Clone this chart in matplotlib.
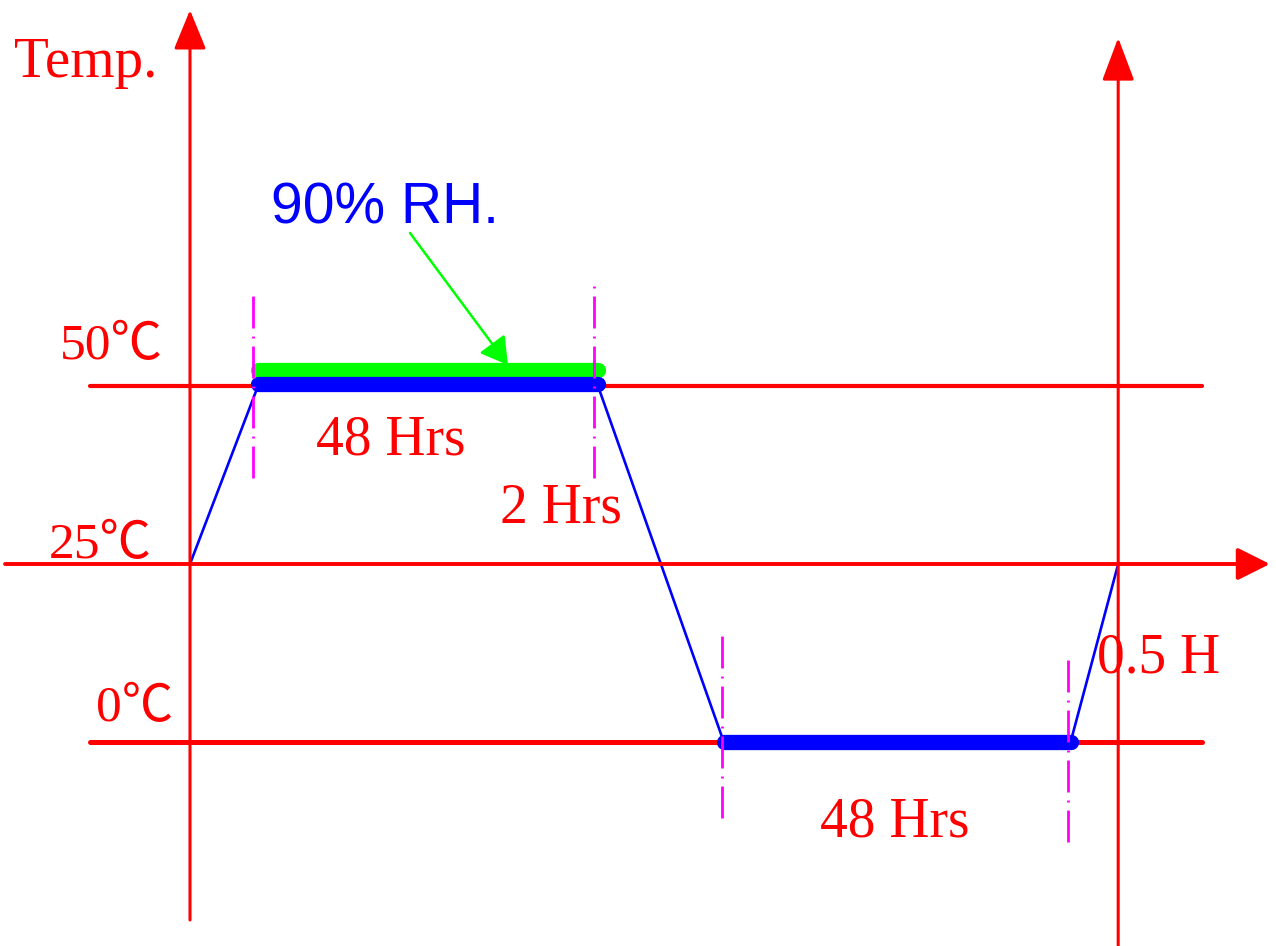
import matplotlib
matplotlib.use("Agg")
import matplotlib.pyplot as plt
from matplotlib.transforms import offset_copy

# ---- data: schematic temperature / humidity cycle ---------------------
# time is in schematic drawing units (1 unit = one 48 h dwell as drawn)
profile_t = [0.0, 0.2, 1.2, 1.57, 2.59, 2.73]
profile_temp = [25, 50, 50, 0, 0, 25]
level_temps = [50, 25, 0]
level_labels = ["50℃", "25℃", "0℃"]
hot_dwell = (0.2, 1.2)     # 50 C, 90% RH
cold_dwell = (1.57, 2.59)  # 0 C
phase_marks_t = [0.185, 1.188, 1.565, 2.582]
phase_marks_top = [63.8, 64.2, 15.7, 12.2]
phase_marks_bot = [37.1, 37.1, -10.7, -14.0]
duration_labels = ["48 Hrs", "2 Hrs", "0.5 H", "48 Hrs"]

RED, BLUE, GREEN, MAG = "#ff0000", "#0000ff", "#00ff00", "#ff00ff"
SERIF = ["Liberation Serif", "Noto Sans CJK SC", "DejaVu Serif"]

fig = plt.figure(figsize=(12.76, 9.46), dpi=100)
ax = fig.add_axes([0, 0, 1, 1])
ax.set_xlim(-190 / 340, (1276 - 190) / 340)
ax.set_ylim(-(946 - 742) / 7.12, 742 / 7.12)
ax.axis("off")


def arrow(tail, tip, hl, hw, lw):
    ax.annotate("", xy=tip, xytext=tail,
                arrowprops=dict(arrowstyle=f"-|>,head_length={hl},head_width={hw}",
                                mutation_scale=20, lw=lw, color=RED,
                                shrinkA=0, shrinkB=0))


# axes (temperature axes and the 25 C time axis)
arrow((0, -25.0), (0, 102.8), 1.22, 0.5, 2.2)
arrow((2.73, -30), (2.73, 98.9), 1.33, 0.5, 2.2)
arrow((-0.544, 25), (3.176, 25), 1.0, 0.5, 2.8)
for temp, lw in ((50, 3.0), (0, 3.6)):
    ax.plot([-0.294, 2.976], [temp, temp], color=RED, lw=lw,
            solid_capstyle="round")

# temperature profile
ax.plot(profile_t, profile_temp, color=BLUE, lw=1.9)
rh_tr = offset_copy(ax.transData, fig=fig, x=0, y=16, units="dots")
ax.plot(hot_dwell, [50, 50], color=GREEN, lw=11, solid_capstyle="round",
        transform=rh_tr)
hot_tr = offset_copy(ax.transData, fig=fig, x=0, y=2, units="dots")
ax.plot(hot_dwell, [50, 50], color=BLUE, lw=11, solid_capstyle="round",
        transform=hot_tr)
ax.plot(cold_dwell, [0, 0], color=BLUE, lw=11, solid_capstyle="round")

# phase boundaries
for t, top, bot in zip(phase_marks_t, phase_marks_top, phase_marks_bot):
    ax.plot([t, t], [bot, top], color=MAG, lw=2,
            linestyle=(0, (11.5, 2.9, 0.7, 2.9)))

# 90% RH callout
ax.annotate("", xy=(0.935, 52.95), xytext=(0.647, 71.5),
            arrowprops=dict(arrowstyle="-|>,head_length=1.65,head_width=0.97",
                            mutation_scale=10, lw=1.8, color=GREEN,
                            shrinkA=0, shrinkB=0))
ax.text(0.238, 72.8, "90% RH.", color=BLUE, fontsize=41,
        family="Liberation Sans", ha="left", va="baseline")

# labels
ax.text(-0.518, 93.4, "Temp.", color=RED, fontsize=41, family=SERIF,
        ha="left", va="baseline")
for (x, y), lab in zip([(-0.382, 53.8), (-0.415, 25.8), (-0.276, 2.95)],
                       level_labels):
    ax.text(x, y, lab, color=RED, fontsize=37, family=SERIF,
            ha="left", va="baseline")
for (x, y), lab in zip([(0.371, 40.4), (0.912, 30.8), (2.668, 9.7),
                        (1.853, -13.3)], duration_labels):
    ax.text(x, y, lab, color=RED, fontsize=40, family=SERIF,
            ha="left", va="baseline")

fig.savefig("out.png", dpi=100, facecolor="white")
